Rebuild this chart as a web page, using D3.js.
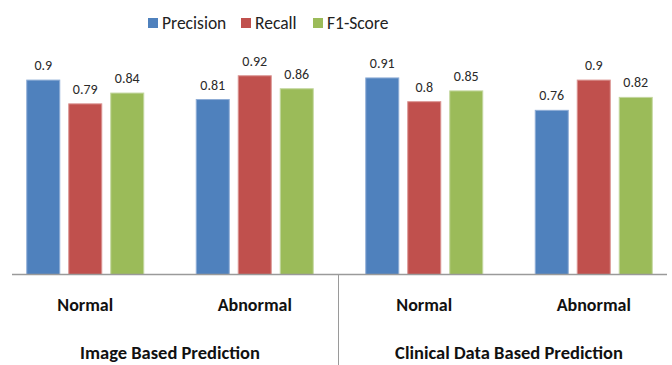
<!DOCTYPE html>
<html>
<head>
<meta charset="utf-8">
<script src="https://cdn.jsdelivr.net/npm/d3@7"></script>
<style>
  html, body { margin: 0; padding: 0; background: #fff; }
  svg { display: block; }
  text { font-family: Carlito, Lato, "Open Sans", sans-serif; }
</style>
</head>
<body>
<svg id="chart" width="672" height="365"></svg>
<script>
const groups = ["Image-Normal", "Image-Abnormal", "Clinical-Normal", "Clinical-Abnormal"];
const groupLabels = ["Normal", "Abnormal", "Normal", "Abnormal"];
const sections = ["Image Based Prediction", "Clinical Data Based Prediction"];
const series = ["Precision", "Recall", "F1-Score"];
const colors = ["#4F81BD", "#C0504D", "#9BBB59"];
const strokeColors = ["#8EADD6", "#DA9391", "#C3D79F"];
const precision = [0.9, 0.81, 0.91, 0.76];
const recall = [0.79, 0.92, 0.8, 0.9];
const f1 = [0.84, 0.86, 0.85, 0.82];
const values = [precision, recall, f1];

const svg = d3.select("#chart");
const W = 672, H = 365;
const baseY = 274.5;

const x0 = d3.scaleBand().domain(groups).range([0.5, 678.5]).padding(0);
const x1 = d3.scaleBand().domain(series).range([0, 117]).paddingInner(0.214).paddingOuter(0);
const y = d3.scaleLinear().domain([0, 1]).range([baseY, baseY - 216]);

// bars
const g = svg.append("g");
groups.forEach((grp, gi) => {
  const cx = x0(grp) + x0.bandwidth() / 2;
  const gx = cx - 117 / 2;
  series.forEach((s, si) => {
    const v = values[si][gi];
    const bx = gx + x1(s);
    g.append("rect")
      .attr("x", bx)
      .attr("y", y(v))
      .attr("width", x1.bandwidth())
      .attr("height", baseY - y(v))
      .attr("fill", colors[si])
      .attr("stroke", strokeColors[si])
      .attr("stroke-width", 1);
    g.append("text")
      .attr("x", bx + x1.bandwidth() / 2)
      .attr("y", y(v) - 10)
      .attr("text-anchor", "middle")
      .attr("font-size", 14)
      .attr("fill", "#2a2a2a")
      .text(v);
  });
  svg.append("text")
    .attr("x", cx)
    .attr("y", 311)
    .attr("text-anchor", "middle")
    .attr("font-size", 18)
    .attr("font-weight", "bold")
    .attr("fill", "#111")
    .text(groupLabels[gi]);
});

// axis line
svg.append("line")
  .attr("x1", 12).attr("x2", 667)
  .attr("y1", baseY).attr("y2", baseY)
  .attr("stroke", "#9a9a9a").attr("stroke-width", 1.5);

// divider
svg.append("line")
  .attr("x1", 338.5).attr("x2", 338.5)
  .attr("y1", baseY).attr("y2", H)
  .attr("stroke", "#9a9a9a").attr("stroke-width", 1);

// section labels
const secCenters = [
  (x0(groups[0]) + x0(groups[1]) + x0.bandwidth()) / 2,
  (x0(groups[2]) + x0(groups[3]) + x0.bandwidth()) / 2
];
sections.forEach((s, i) => {
  svg.append("text")
    .attr("x", secCenters[i])
    .attr("y", 359)
    .attr("text-anchor", "middle")
    .attr("font-size", 18.5)
    .attr("font-weight", "bold")
    .attr("fill", "#111")
    .text(s);
});

// legend
const legendX = [148, 241, 313];
series.forEach((s, i) => {
  svg.append("rect")
    .attr("x", legendX[i]).attr("y", 18)
    .attr("width", 10).attr("height", 10)
    .attr("fill", colors[i]);
  svg.append("text")
    .attr("x", legendX[i] + 14)
    .attr("y", 29)
    .attr("font-size", 17.5)
    .attr("fill", "#222")
    .text(s);
});
</script>
</body>
</html>
